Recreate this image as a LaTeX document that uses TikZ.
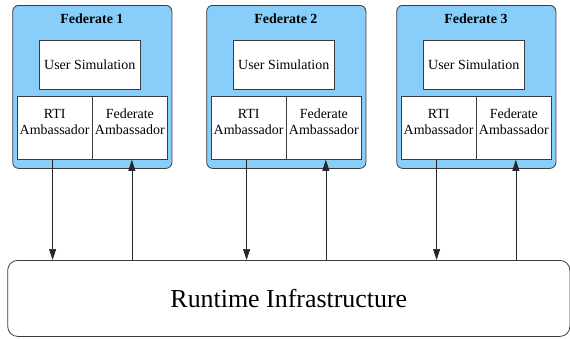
\documentclass[tikz,border=0pt]{standalone}
\usepackage{fontspec}
\setmainfont{Liberation Serif}
\newfontfamily\labelfont{Liberation Serif}
\usetikzlibrary{arrows.meta}
\definecolor{fedblue}{RGB}{135,206,250}
\definecolor{edgegray}{RGB}{60,60,60}
\begin{document}
\begin{tikzpicture}[x=1bp,y=-1bp,
  fedbox/.style={draw=edgegray, fill=fedblue, rounded corners=6bp, line width=0.8bp, inner sep=0, anchor=north west},
  whitebox/.style={draw=edgegray, fill=white, line width=0.8bp, inner sep=0, anchor=north west},
  lbl/.style={font=\labelfont\fontsize{14}{16}\selectfont, align=center, inner sep=0},
  flow/.style={draw=black!85, line width=0.7bp, -{Triangle[length=11bp,width=7bp]}},
]
\useasboundingbox (0,0) rectangle (570,338);

% the shared runtime infrastructure
\node[whitebox, rounded corners=10bp, minimum width=562.2bp, minimum height=76bp,
      font=\labelfont\fontsize{26}{30}\selectfont] (rti) at (7.3,260) {Runtime Infrastructure};

% one federate: outer container, user simulation and the two ambassadors
\foreach \i/\x in {1/12.3,2/206.3,3/396.3}{
  \node[fedbox, minimum width=159.2bp, minimum height=163bp] (fed\i) at (\x,5) {};
  \node[font=\labelfont\bfseries\fontsize{14}{16}\selectfont, inner sep=0] (title\i) at (\x+79.6,18.5) {Federate \i};
  \node[whitebox, lbl, anchor=north west, minimum width=101.6bp, minimum height=49bp] (user\i) at (\x+26.2,40) {User Simulation};
  \node[whitebox, minimum width=75.2bp, minimum height=63bp] (rtiamb\i) at (\x+4.3,96) {};
  \node[whitebox, minimum width=75.3bp, minimum height=63bp] (fedamb\i) at (\x+79.5,96) {};
  \node[lbl] (rtitext\i) at ([yshift=6bp]rtiamb\i.center) {RTI\\Ambassador};
  \node[lbl] (fedtext\i) at ([yshift=6bp]fedamb\i.center) {Federate\\Ambassador};
}

% calls from the RTI ambassador down, callbacks up to the federate ambassador
\foreach \i in {1,2,3}{
  \draw[flow] ([xshift=-2bp]rtiamb\i.south) -- ([xshift=-2bp]rtiamb\i.south |- rti.north);
  \draw[flow] ([xshift=2bp]fedamb\i.south |- rti.north) -- ([xshift=2bp]fedamb\i.south);
}
\end{tikzpicture}
\end{document}
